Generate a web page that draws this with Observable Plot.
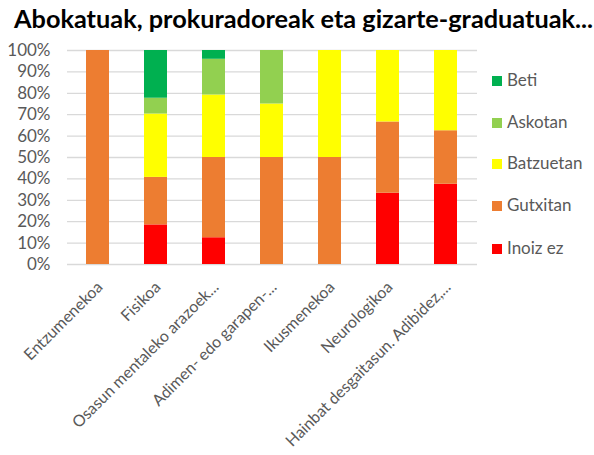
<!DOCTYPE html>
<html>
<head>
<meta charset="utf-8">
<script src="https://cdn.jsdelivr.net/npm/d3@7"></script>
<script src="https://cdn.jsdelivr.net/npm/@observablehq/plot@0.6"></script>
<style>
  html, body { margin: 0; padding: 0; background: #fff; }
  #wrap { position: relative; width: 594px; height: 455px; overflow: hidden; font-family: Lato, sans-serif; }
  #title { height: 40px; box-sizing: border-box; padding-left: 14px; padding-top: 4px; font-size: 25.3px; font-weight: bold; color: #000; white-space: nowrap; line-height: 28px; }
  #legend { position: absolute; left: 492px; top: 0; }
  .item { position: absolute; left: 0; white-space: nowrap; font-size: 17px; color: #595959; height: 20px; line-height: 20px; }
  .sw { display: inline-block; width: 10px; height: 10px; margin-right: 5px; vertical-align: 0px; }
</style>
</head>
<body>
<div id="wrap">
  <div id="title">Abokatuak, prokuradoreak eta gizarte-graduatuak...</div>
  <div id="chart"></div>
  <div id="legend"></div>
</div>
<script>
const categories = ["Entzumenekoa", "Fisikoa", "Osasun mentaleko arazoek...", "Adimen- edo garapen-...", "Ikusmenekoa", "Neurologikoa", "Hainbat desgaitasun. Adibidez,..."];
const seriesNames = ["Inoiz ez", "Gutxitan", "Batzuetan", "Askotan", "Beti"];
const seriesColors = ["#FF0000", "#ED7D31", "#FFFF00", "#92D050", "#00B050"];
const inoizEz   = [0, 18.5, 12.5, 0, 0, 33.3, 37.5];
const gutxitan  = [100, 22.2, 37.5, 50, 50, 33.3, 25];
const batzuetan = [0, 29.6, 29.2, 25, 50, 33.4, 37.5];
const askotan   = [0, 7.4, 16.7, 25, 0, 0, 0];
const beti      = [0, 22.3, 4.1, 0, 0, 0, 0];
const yTicks = [0, 0.1, 0.2, 0.3, 0.4, 0.5, 0.6, 0.7, 0.8, 0.9, 1];

const seriesValues = [inoizEz, gutxitan, batzuetan, askotan, beti];
const data = [];
categories.forEach((c, i) => {
  seriesNames.forEach((s, j) => {
    data.push({category: c, series: s, value: seriesValues[j][i] / 100});
  });
});

const fmt = d3.format(".0%");
const chart = Plot.plot({
  width: 594,
  height: 415,
  marginTop: 10,
  marginBottom: 191,
  marginLeft: 67,
  marginRight: 117,
  style: {fontFamily: "Lato, sans-serif", fontSize: "17px", background: "#fff"},
  x: {domain: categories, paddingInner: 0.6, paddingOuter: 0.3, axis: null},
  y: {domain: [0, 1], axis: null},
  color: {domain: seriesNames, range: seriesColors},
  marks: [
    Plot.ruleY(yTicks, {stroke: "#d9d9d9", strokeWidth: 1.3}),
    Plot.barY(data, {x: "category", y: "value", fill: "series"}),
    Plot.text(yTicks, {y: d => d, frameAnchor: "left", dx: -17, textAnchor: "end", text: d => fmt(d), fill: "#595959", fontSize: 17}),
    Plot.text(categories, {x: d => d, frameAnchor: "bottom", dx: 2, dy: 20, rotate: -45, textAnchor: "end", lineAnchor: "middle", text: d => d, fill: "#595959", fontSize: 16})
  ]
});
document.getElementById("chart").appendChild(chart);

const legend = document.getElementById("legend");
const legendTops = [80, 122, 163, 205, 248];
seriesNames.slice().reverse().forEach((s, k) => {
  const idx = seriesNames.indexOf(s);
  const item = document.createElement("div");
  item.className = "item";
  item.style.top = (legendTops[k] - 10) + "px";
  const sw = document.createElement("span");
  sw.className = "sw";
  sw.style.background = seriesColors[idx];
  item.appendChild(sw);
  item.appendChild(document.createTextNode(s));
  legend.appendChild(item);
});
</script>
</body>
</html>
